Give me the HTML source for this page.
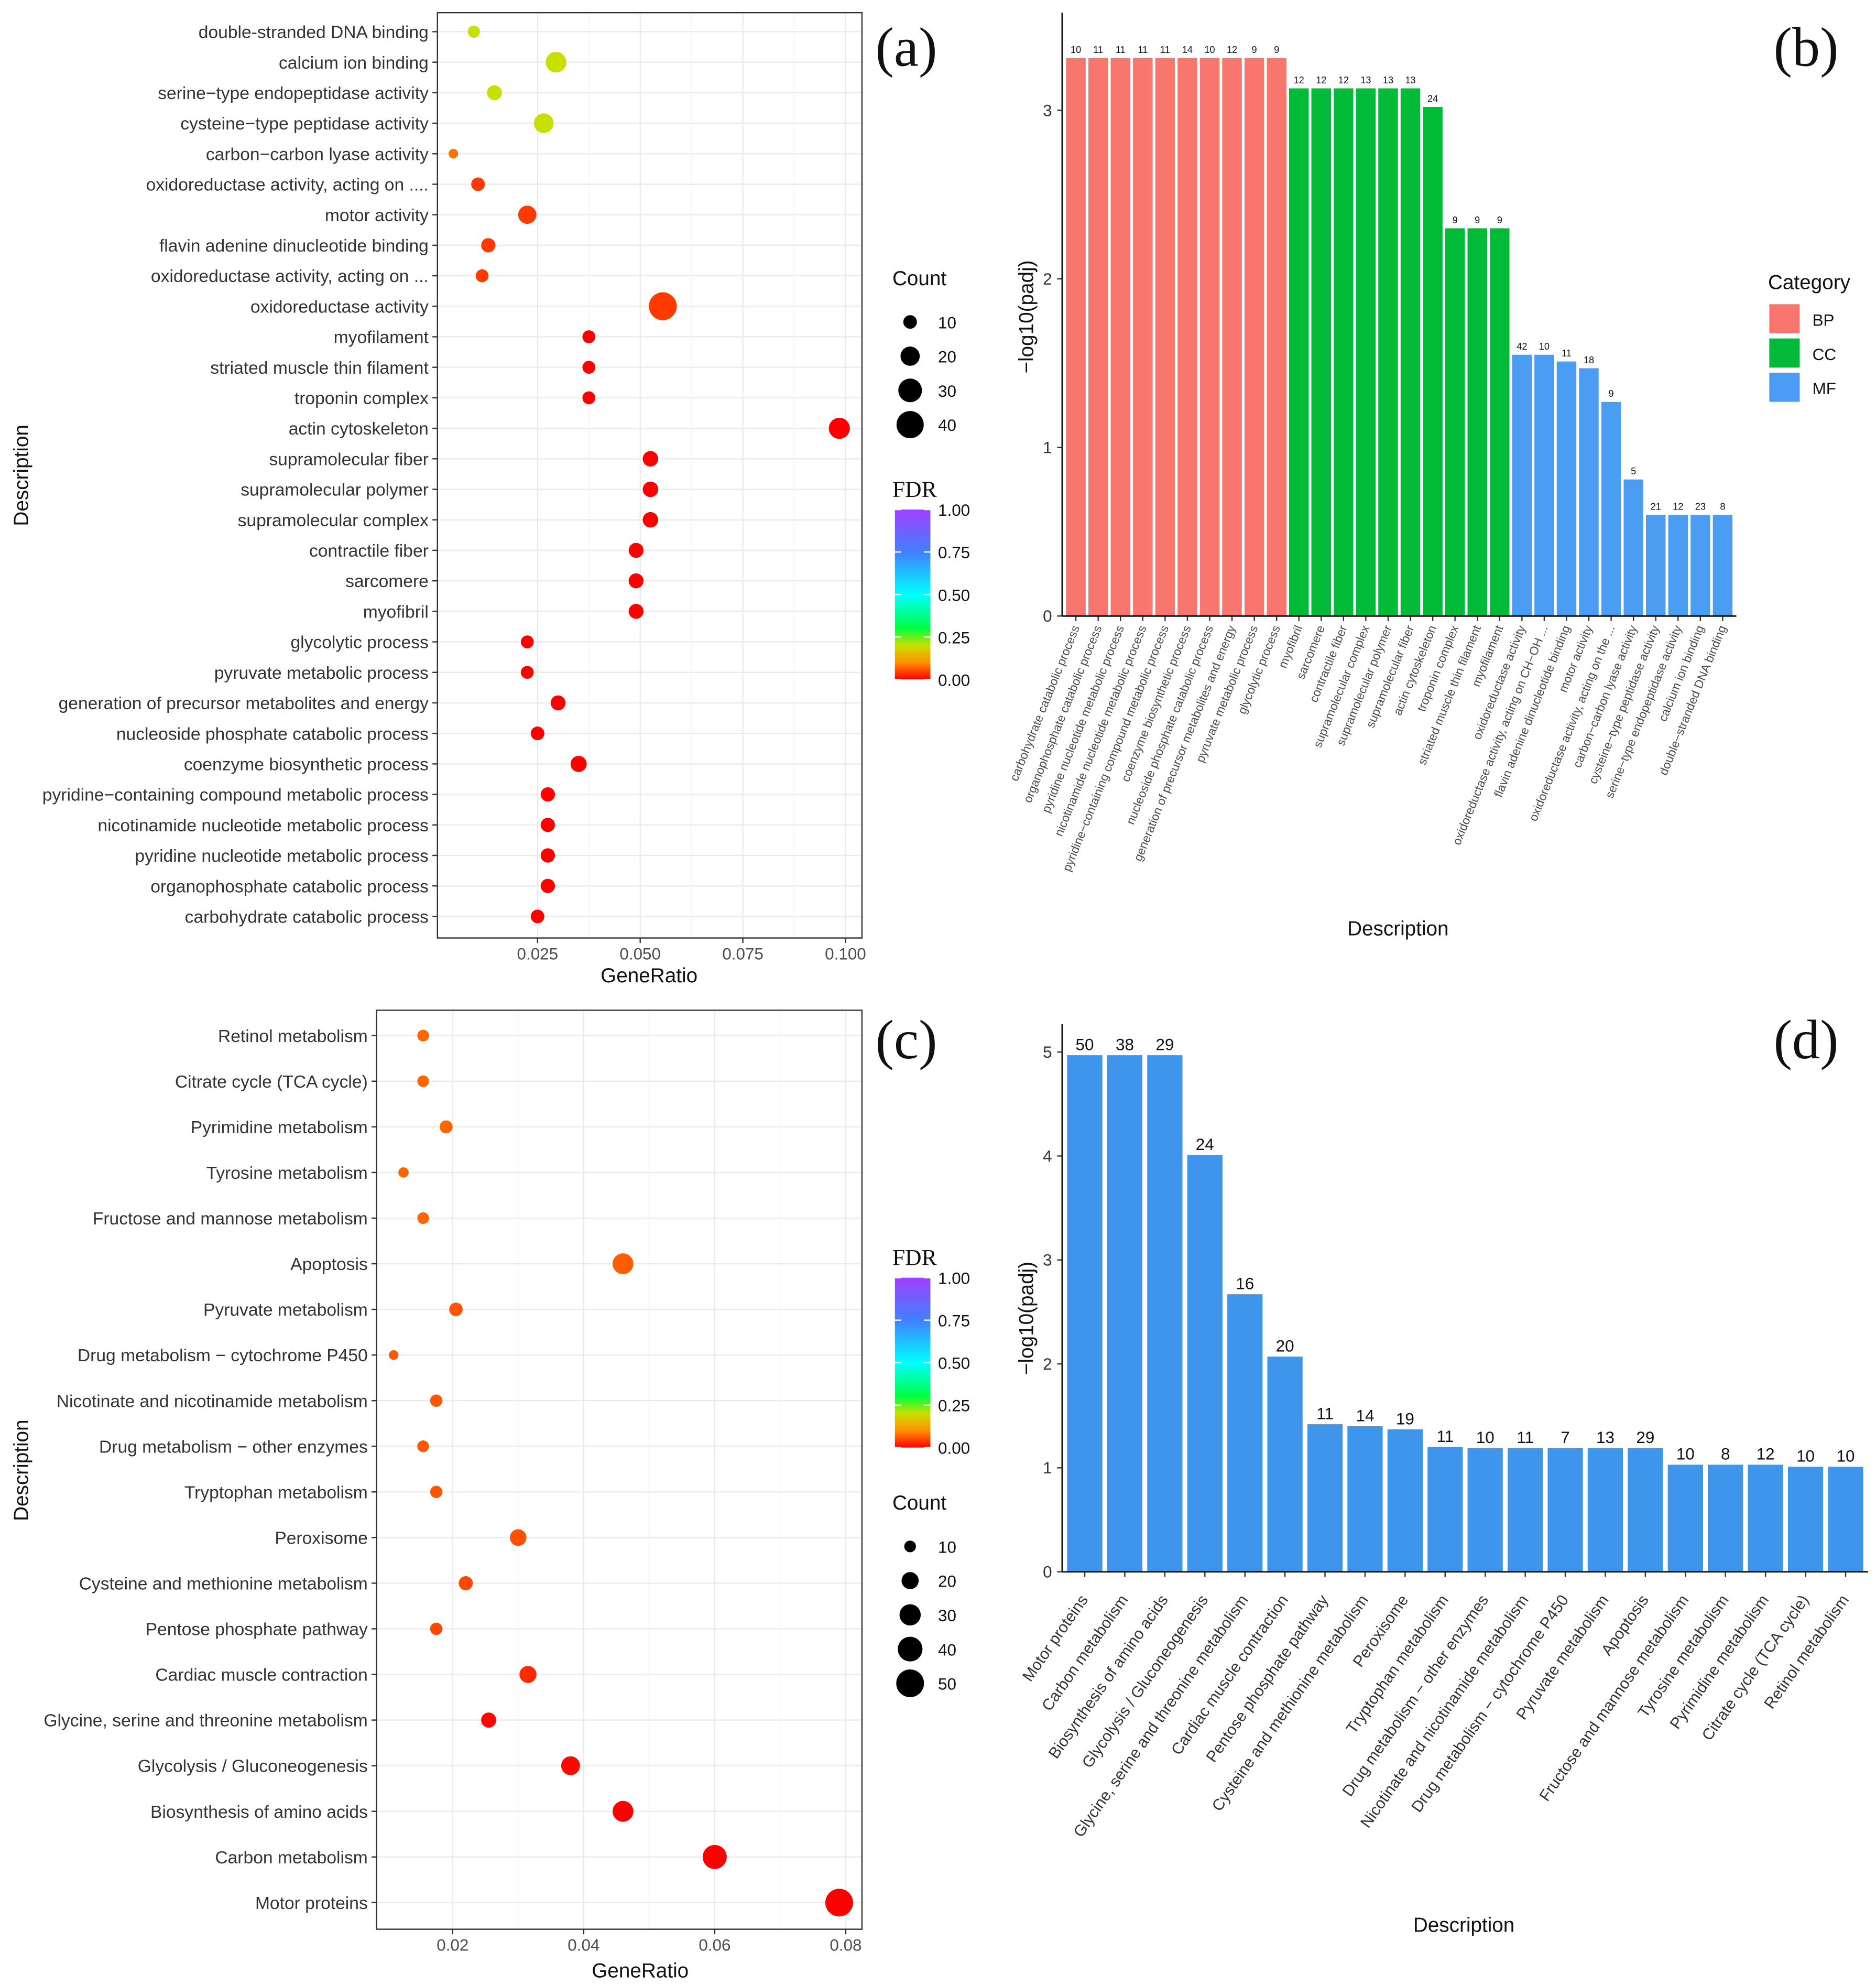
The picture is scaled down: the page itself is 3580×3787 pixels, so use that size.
<!DOCTYPE html>
<html><head><meta charset="utf-8"><style>
html,body{margin:0;padding:0;background:#fff}
svg{display:block}
</style></head><body>
<svg id="s" width="3580" height="3787" viewBox="0 0 1480 1566" xmlns="http://www.w3.org/2000/svg" font-family="Liberation Sans, sans-serif">
<defs>
<linearGradient id="fdr" x1="0" y1="1" x2="0" y2="0">
<stop offset="0" stop-color="#ff0000"/><stop offset="0.1" stop-color="#ff9000"/><stop offset="0.2" stop-color="#c8e000"/><stop offset="0.3" stop-color="#00ff40"/><stop offset="0.5" stop-color="#00ffff"/><stop offset="0.75" stop-color="#4080ff"/><stop offset="1" stop-color="#a040ff"/>
</linearGradient>
</defs>
<g id="root"></g>
</svg>
<script>
// ---- Panel A data ----
const aTerms=["double-stranded DNA binding","calcium ion binding","serine−type endopeptidase activity","cysteine−type peptidase activity","carbon−carbon lyase activity","oxidoreductase activity, acting on ....","motor activity","flavin adenine dinucleotide binding","oxidoreductase activity, acting on ...","oxidoreductase activity","myofilament","striated muscle thin filament","troponin complex","actin cytoskeleton","supramolecular fiber","supramolecular polymer","supramolecular complex","contractile fiber","sarcomere","myofibril","glycolytic process","pyruvate metabolic process","generation of precursor metabolites and energy","nucleoside phosphate catabolic process","coenzyme biosynthetic process","pyridine−containing compound metabolic process","nicotinamide nucleotide metabolic process","pyridine nucleotide metabolic process","organophosphate catabolic process","carbohydrate catabolic process"];
const aRatio=[0.0095,0.0295,0.0145,0.0265,0.0045,0.0105,0.0225,0.013,0.0115,0.0555,0.0375,0.0375,0.0375,0.0985,0.0525,0.0525,0.0525,0.049,0.049,0.049,0.0225,0.0225,0.030,0.025,0.035,0.0275,0.0275,0.0275,0.0275,0.025];
const aCount=[8,23,12,21,5,10,18,11,9,42,9,9,9,24,13,13,13,12,12,12,9,9,12,10,14,11,11,11,11,10];
const aFdr=[0.2,0.2,0.2,0.2,0.08,0.04,0.04,0.04,0.04,0.04,0.0,0.0,0.0,0.0,0.0,0.0,0.0,0.0,0.0,0.0,0.0,0.0,0.0,0.0,0.0,0.0,0.0,0.0,0.0,0.0];
const aTicks=[0.025,0.050,0.075,0.100];
// ---- Panel B data ----
const bTerms=["carbohydrate catabolic process","organophosphate catabolic process","pyridine nucleotide metabolic process","nicotinamide nucleotide metabolic process","pyridine−containing compound metabolic process","coenzyme biosynthetic process","nucleoside phosphate catabolic process","generation of precursor metabolites and energy","pyruvate metabolic process","glycolytic process","myofibril","sarcomere","contractile fiber","supramolecular complex","supramolecular polymer","supramolecular fiber","actin cytoskeleton","troponin complex","striated muscle thin filament","myofilament","oxidoreductase activity","oxidoreductase activity, acting on CH−OH ...","flavin adenine dinucleotide binding","motor activity","oxidoreductase activity, acting on the ...","carbon−carbon lyase activity","cysteine−type peptidase activity","serine−type endopeptidase activity","calcium ion binding","double−stranded DNA binding"];
const bVals=[3.31,3.31,3.31,3.31,3.31,3.31,3.31,3.31,3.31,3.31,3.13,3.13,3.13,3.13,3.13,3.13,3.02,2.3,2.3,2.3,1.55,1.55,1.51,1.47,1.27,0.81,0.6,0.6,0.6,0.6];
const bCounts=[10,11,11,11,11,14,10,12,9,9,12,12,12,13,13,13,24,9,9,9,42,10,11,18,9,5,21,12,23,8];
const bCats=["BP","BP","BP","BP","BP","BP","BP","BP","BP","BP","CC","CC","CC","CC","CC","CC","CC","CC","CC","CC","MF","MF","MF","MF","MF","MF","MF","MF","MF","MF"];
const bTicks=[0,1,2,3];
// ---- Panel C data ----
const cTerms=["Retinol metabolism","Citrate cycle (TCA cycle)","Pyrimidine metabolism","Tyrosine metabolism","Fructose and mannose metabolism","Apoptosis","Pyruvate metabolism","Drug metabolism − cytochrome P450","Nicotinate and nicotinamide metabolism","Drug metabolism − other enzymes","Tryptophan metabolism","Peroxisome","Cysteine and methionine metabolism","Pentose phosphate pathway","Cardiac muscle contraction","Glycine, serine and threonine metabolism","Glycolysis / Gluconeogenesis","Biosynthesis of amino acids","Carbon metabolism","Motor proteins"];
const cRatio=[0.0155,0.0155,0.019,0.0125,0.0155,0.046,0.0205,0.011,0.0175,0.0155,0.0175,0.030,0.022,0.0175,0.0315,0.0255,0.038,0.046,0.060,0.079];
const cCount=[10,10,12,8,10,29,13,7,11,10,11,19,14,11,20,16,24,29,38,50];
const cFdr=[0.07,0.07,0.07,0.07,0.07,0.065,0.06,0.06,0.06,0.06,0.06,0.055,0.05,0.05,0.03,0.005,0.005,0.0,0.0,0.0];
const cTicks=[0.02,0.04,0.06,0.08];
// ---- Panel D data ----
const dTerms=["Motor proteins","Carbon metabolism","Biosynthesis of amino acids","Glycolysis / Gluconeogenesis","Glycine, serine and threonine metabolism","Cardiac muscle contraction","Pentose phosphate pathway","Cysteine and methionine metabolism","Peroxisome","Tryptophan metabolism","Drug metabolism − other enzymes","Nicotinate and nicotinamide metabolism","Drug metabolism − cytochrome P450","Pyruvate metabolism","Apoptosis","Fructose and mannose metabolism","Tyrosine metabolism","Pyrimidine metabolism","Citrate cycle (TCA cycle)","Retinol metabolism"];
const dVals=[4.97,4.97,4.97,4.01,2.67,2.07,1.42,1.40,1.37,1.20,1.19,1.19,1.19,1.19,1.19,1.03,1.03,1.03,1.01,1.01];
const dCounts=[50,38,29,24,16,20,11,14,19,11,10,11,7,13,29,10,8,12,10,10];
const dTicks=[0,1,2,3,4,5];

const NS="http://www.w3.org/2000/svg";
const root=document.getElementById('root');
function mk(tag,attrs,parent,txt){const e=document.createElementNS(NS,tag);for(const k in attrs)e.setAttribute(k,attrs[k]);if(txt!==undefined)e.textContent=txt;(parent||root).appendChild(e);return e;}
function hex(c){return [parseInt(c.slice(1,3),16),parseInt(c.slice(3,5),16),parseInt(c.slice(5,7),16)];}
const stops=[[0,"#ff0000"],[0.1,"#ff9000"],[0.2,"#c8e000"],[0.3,"#00ff40"],[0.5,"#00ffff"],[0.75,"#4080ff"],[1,"#a040ff"]];
function fdrColor(v){if(v<=0)return stops[0][1];for(let i=1;i<stops.length;i++){if(v<=stops[i][0]){const t=(v-stops[i-1][0])/(stops[i][0]-stops[i-1][0]);const a=hex(stops[i-1][1]),b=hex(stops[i][1]);return "rgb("+a.map((x,j)=>Math.round(x+(b[j]-x)*t)).join(",")+")";}}return stops[6][1];}

function dotPanel(id,terms,ratio,count,fdr,ticks,px0,px1,py0,py1,xs,rowTop,rowBot,rs,fs){
  const g=mk('g',{});
  
  
  mk('rect',{x:px0,y:py0,width:px1-px0,height:py1-py0,fill:'#fff'},g);
  const step=(rowBot-rowTop)/(terms.length-1);
  const yOf=i=>rowTop+i*step;
  ticks.forEach((t,i)=>{const x=xs(t);
    mk('line',{x1:x,x2:x,y1:py0,y2:py1,stroke:'#ebebeb','stroke-width':1},g);
    if(i<ticks.length-1){const xm=(x+xs(ticks[i+1]))/2;mk('line',{x1:xm,x2:xm,y1:py0,y2:py1,stroke:'#f4f4f4','stroke-width':0.6},g);}
    mk('line',{x1:x,x2:x,y1:py1,y2:py1+4,stroke:'#333'},g);
    const tl=mk('text',{x:x,y:py1+17,'font-size':13,'text-anchor':'middle',fill:'#4d4d4d'},g,id==='a'?t.toFixed(3):t.toFixed(2));
    
  });
  terms.forEach((t,i)=>{const y=yOf(i);
    mk('line',{x1:px0,x2:px1,y1:y,y2:y,stroke:'#ebebeb','stroke-width':1},g);
    mk('line',{x1:px0-4,x2:px0,y1:y,y2:y,stroke:'#333'},g);
    const tl=mk('text',{x:px0-7,y:y+5,'font-size':fs,'text-anchor':'end',fill:'#333'},g,t);
    
  });
  terms.forEach((t,i)=>{
    const c=mk('circle',{cx:xs(ratio[i]),cy:yOf(i),r:rs(count[i]),fill:fdrColor(fdr[i])},g);
    
    
  });
  mk('rect',{x:px0,y:py0,width:px1-px0,height:py1-py0,fill:'none',stroke:'#333','stroke-width':1},g);
}
const xsA=v=>424+(v-0.025)*3240;
dotPanel('a',aTerms,aRatio,aCount,aFdr,aTicks,345,680,10,740,xsA,25,723,c=>1.7*Math.sqrt(c),13.9);
const xsC=v=>357+(v-0.02)*5170;
dotPanel('c',cTerms,cRatio,cCount,cFdr,cTicks,297,680,797,1522,xsC,817,1501,c=>Math.max(2.5,1.62*Math.sqrt(c)-0.5),13.9);

function bars(id,terms,vals,counts,colors,ticks,ax0,ax1,y0,ppu,top,labY,rot,lfs,cfs,lcol){
  const g=mk('g',{});
  
  
  const ys=v=>y0-v*ppu;
  ticks.forEach(t=>{mk('line',{x1:ax0-4,x2:ax0,y1:ys(t),y2:ys(t),stroke:'#333'},g);
    const tl=mk('text',{x:ax0-8,y:ys(t)+4.5,'font-size':13,'text-anchor':'end',fill:'#333'},g,t);
    });
  const slot=(ax1-ax0-4)/terms.length;
  terms.forEach((t,i)=>{
    const cx=ax0+2+slot*(i+0.5);const w=slot*0.88;
    const b=mk('rect',{x:cx-w/2,y:ys(vals[i]),width:w,height:vals[i]*ppu,fill:colors[i]},g);
    
    
    const cl=mk('text',{x:cx,y:ys(vals[i])-4,'font-size':cfs,'text-anchor':'middle',fill:'#111'},g,counts[i]);
    
    mk('line',{x1:cx,x2:cx,y1:y0,y2:y0+4,stroke:'#333'},g);
    const tl=mk('text',{x:cx+3,y:labY,'font-size':lfs,'text-anchor':'end',fill:lcol,transform:`rotate(${rot} ${cx+3} ${labY})`},g,t);
    
  });
  mk('line',{x1:ax0,x2:ax0,y1:top,y2:y0,stroke:'#111','stroke-width':1.2},g);
  mk('line',{x1:ax0,x2:ax1,y1:y0,y2:y0,stroke:'#111','stroke-width':1.2},g);
}
const catCol={BP:"#f8766d",CC:"#00ba38",MF:"#4b9cf3"};
bars('b',bTerms,bVals,bCounts,bCats.map(c=>catCol[c]),bTicks,838,1370,486,133,10,495,-68,9.5,7.5,'#4d4d4d');
bars('d',dTerms,dVals,dCounts,dTerms.map(()=>"#3f95ec"),dTicks,838,1474,1240,82,808,1262,-55,12.5,13,'#333');

function txt(x,y,s,fs,attrs,name){const t=mk('text',Object.assign({x:x,y:y,'font-size':fs,fill:'#111'},attrs||{}),root,s);return t;}
txt(512,775,"GeneRatio",16,{'text-anchor':'middle'},'a-x-axis-title');
txt(22,375,"Description",16,{'text-anchor':'middle',transform:'rotate(-90 22 375)'},'a-y-axis-title');
txt(505,1560,"GeneRatio",16,{'text-anchor':'middle'},'c-x-axis-title');
txt(22,1160,"Description",16,{'text-anchor':'middle',transform:'rotate(-90 22 1160)'},'c-y-axis-title');
txt(1103,738,"Description",16,{'text-anchor':'middle'},'b-x-axis-title');
txt(815,250,"−log10(padj)",16,{'text-anchor':'middle',transform:'rotate(-90 815 250)'},'b-y-axis-title');
txt(1155,1524,"Description",16,{'text-anchor':'middle'},'d-x-axis-title');
txt(815,1040,"−log10(padj)",16,{'text-anchor':'middle',transform:'rotate(-90 815 1040)'},'d-y-axis-title');
const sf={'font-family':'Liberation Serif, serif','text-anchor':'middle'};
txt(715,52,"(a)",44,sf,'panel-label-a');
txt(1425,52,"(b)",44,sf,'panel-label-b');
txt(715,835,"(c)",44,sf,'panel-label-c');
txt(1425,835,"(d)",44,sf,'panel-label-d');
function countLegend(x,y,vals,rs,name){txt(x-2,y,"Count",16,{},name+'-title');
  vals.forEach((v,i)=>{const cy=y+29+i*27;const c=mk('circle',{cx:x+12,cy:cy,r:rs(v),fill:'#000'});
    txt(x+34,cy+5,v,13,{},name+'-label');});}
countLegend(706,225,[10,20,30,40],c=>1.7*Math.sqrt(c),'a-count-legend');
countLegend(706,1191,[10,20,30,40,50],c=>1.62*Math.sqrt(c)-0.5,'c-count-legend');
function fdrLegend(x,y,name){txt(x-2,y-10,"FDR",18,{'font-family':'Liberation Serif, serif'},name+'-title');
  const r=mk('rect',{x:x,y:y,width:28,height:134,fill:'url(#fdr)'});
  ["1.00","0.75","0.50","0.25","0.00"].forEach((l,i)=>{const yy=y+i*33.5;mk('line',{x1:x,x2:x+5,y1:yy,y2:yy,stroke:'#fff'});mk('line',{x1:x+23,x2:x+28,y1:yy,y2:yy,stroke:'#fff'});txt(x+34,yy+5,l,13,{},name+'-label');});}
fdrLegend(706,402,'a-fdr-legend');
fdrLegend(706,1008,'c-fdr-legend');
txt(1395,228,"Category",16,{},'b-legend-title');
["BP","CC","MF"].forEach((k,i)=>{const r=mk('rect',{x:1396,y:240+i*27,width:24,height:23,fill:catCol[k]});txt(1430,257+i*27,k,13,{},'b-legend-label');});
</script>
</body></html>
